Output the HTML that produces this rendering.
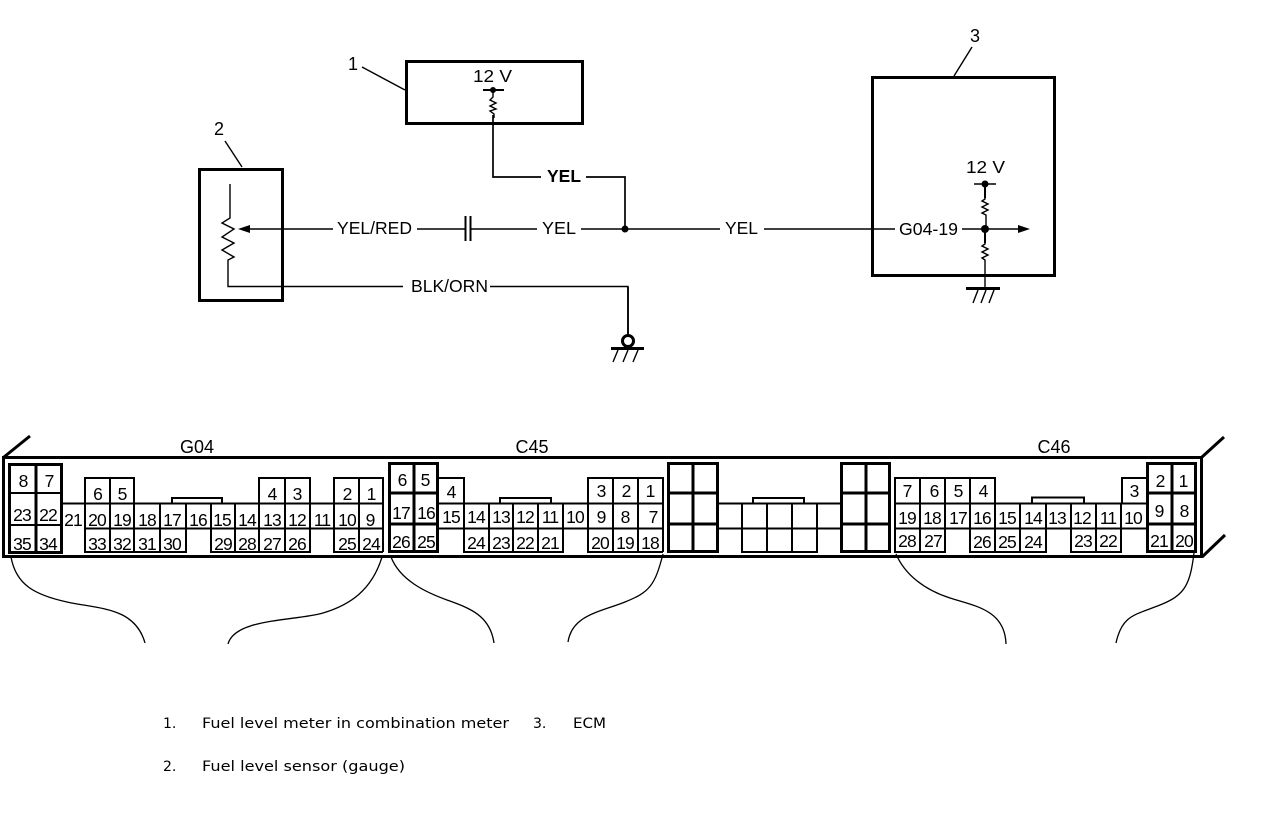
<!DOCTYPE html>
<html><head><meta charset="utf-8"><style>
html,body{margin:0;padding:0;background:#fff;width:1264px;height:826px;overflow:hidden}
svg{display:block}
text{font-family:"Liberation Sans",sans-serif;fill:#000}
.p text{font-size:17.5px;letter-spacing:-.9px;text-anchor:middle}
.l{font-size:17.5px}
.n{font-size:18px;text-anchor:middle}
.m{font-family:"DejaVu Sans",sans-serif;font-size:14px}
.t{font-size:18px;text-anchor:middle}
</style></head><body>
<svg width="1264" height="826" viewBox="0 0 1264 826" xmlns="http://www.w3.org/2000/svg">
<rect width="1264" height="826" fill="#fff"/>

<!-- Top schematic boxes -->
<g fill="none" stroke="#000" stroke-width="3">
<rect x="406.500" y="61.500" width="176" height="62"/>
<rect x="199.500" y="169.500" width="83" height="131"/>
<rect x="872.500" y="77.500" width="182" height="198"/>
</g>
<g fill="none" stroke="#000" stroke-width="1.4">
<path d="M362,67L405,90M225,141L242,167M972,47L954,76"/>
<path d="M483,90H504" stroke-width="2"/>
<path d="M493,90V97L490,100L496,103L490,106L496,109L490,111L494,114V118"/>
<path d="M493,115V177H541M586,177H625V229" stroke-width="1.7"/>
<path d="M250,229H333M417,229H465M470,229H537M581,229H720M764,229H895M962,229H1018"/>
<path d="M465.500,216V241M470.500,216V241" stroke-width="2"/>
<path d="M230,184V218L222,223L234,229L222,237L234,243L222,250L234,257L228,260V286.500H403M490,286.500H628V335"/>
<path d="M628,287V335" stroke-width="1.8"/>
<path d="M974,184H996"/>
<path d="M985,184V199L982,201L988,204L982,207L988,210L982,213L986,215V229M985,229V244L982,246L988,249L982,252L988,255L982,258L985,260V288"/>
<path d="M985,186V198M985,231V243" stroke-width="2"/>
<path d="M966,288.500H1000" stroke-width="3"/>
<path d="M973,303L978,290M981,303L986,290M989,303L994,290"/>
<path d="M611,348.500H644" stroke-width="3"/>
<path d="M613,362L618,350M623,362L628,350M633,362L638,350"/>
<circle cx="628" cy="341" r="5.500" stroke-width="3" fill="#fff"/>
</g>
<g fill="#000">
<circle cx="493" cy="90" r="3"/>
<circle cx="625" cy="229" r="3.500"/>
<circle cx="985" cy="184" r="3.500"/>
<circle cx="985" cy="229" r="4"/>
<path d="M238,229L250,225V233Z"/>
<path d="M1030,229L1018,225V233Z"/>
</g>
<text class="n" x="353" y="70">1</text>
<text class="n" x="219" y="135">2</text>
<text class="n" x="975" y="42">3</text>
<text class="l" x="473" y="82" textLength="39" lengthAdjust="spacingAndGlyphs">12 V</text>
<text class="l" x="966" y="173" textLength="39" lengthAdjust="spacingAndGlyphs">12 V</text>
<text class="l" x="547" y="182" style="font-weight:bold" textLength="34" lengthAdjust="spacingAndGlyphs">YEL</text>
<text class="l" x="337" y="234" textLength="75" lengthAdjust="spacingAndGlyphs">YEL/RED</text>
<text class="l" x="542" y="234" textLength="34" lengthAdjust="spacingAndGlyphs">YEL</text>
<text class="l" x="725" y="234" textLength="33" lengthAdjust="spacingAndGlyphs">YEL</text>
<text class="l" x="899" y="235" textLength="59" lengthAdjust="spacingAndGlyphs">G04-19</text>
<text class="l" x="411" y="292" textLength="77" lengthAdjust="spacingAndGlyphs">BLK/ORN</text>

<!-- Connector outline -->
<g fill="none" stroke="#000" stroke-width="3">
<rect x="3.500" y="457.500" width="1198" height="99"/>
<path d="M4,457L30,436M1202,457L1224,437M1202,557L1225,535"/>
</g>

<!-- Grid lines -->
<g fill="none" stroke="#000" stroke-width="2">
<!-- G04 -->
<path d="M62,503.500H383M85,528.500H383"/>
<path d="M85,503V478H134V503M110,478V503M259,503V478H310V503M285,478V503M334,503V478H383V552"/>
<path d="M359,478V552"/>
<path d="M85,503V552H186V503M110,503V552M134,503V552M160,503V552"/>
<path d="M211,503V552H310V503M235,503V552M259,503V552M285,503V552"/>
<path d="M334,503V552H383M310,503V528"/>
<path d="M172,503V498H222V503"/>
<!-- C45 -->
<path d="M438,503.500H664M438,528.500H664"/>
<path d="M438,478H464V503M588,503V478H663V552M613,478V552M638,478V552"/>
<path d="M464,503V552H563V503M489,503V552M513,503V552M538,503V552"/>
<path d="M588,503V552H663M464,503V529M563,503V529"/>
<path d="M500,503V498H551V503"/>
<!-- Center -->
<path d="M718,503.500H841M718,528.500H841"/>
<path d="M742,503V552H817V503M767,503V552M792,503V552"/>
<path d="M753,503V498H804V503"/>
<!-- C46 -->
<path d="M895,503.500H1147M895,528.500H1147"/>
<path d="M895,503V478H995V503M920,478V503M945,478V503M970,478V503"/>
<path d="M1122,503V478H1147"/>
<path d="M895,503V552H945V503M920,503V552"/>
<path d="M970,503V552H1046V503M995,503V552M1020,503V552"/>
<path d="M1071,503V552H1121V503M1096,503V552"/>
<path d="M1032,503V497.500H1084V503"/>
</g>
<g fill="none" stroke="#000" stroke-width="3">
<rect x="9.500" y="464.500" width="52" height="88"/>
<path d="M36,464V552"/>
<rect x="389.500" y="463.500" width="48" height="88"/>
<path d="M414,463V552M389,493H438M389,524H438"/>
<rect x="668.500" y="463.500" width="49" height="88"/>
<path d="M693,463V552M668,493H718M668,524H718"/>
<rect x="841.500" y="463.500" width="48" height="88"/>
<path d="M866,463V552M841,493H890M841,524H890"/>
<rect x="1147.500" y="463.500" width="48" height="88"/>
<path d="M1172,463V552M1147,493H1196M1147,524H1196"/>
</g>
<path d="M9,493H62M9,525H62" fill="none" stroke="#000" stroke-width="2"/>

<!-- Curves -->
<g fill="none" stroke="#000" stroke-width="1.3">
<path d="M11,557C16,585 35,595 67,602S135,607 145,643"/>
<path d="M382,557C372,590 350,605 323,613S235,618 228,644"/>
<path d="M391,557C400,580 425,592 447,600S490,615 494,643"/>
<path d="M663,554C655,585 650,592 625,602S572,615 568,642"/>
<path d="M896,554C905,575 925,590 950,598S1005,610 1006,644"/>
<path d="M1194,553C1190,585 1185,595 1160,605S1122,615 1116,643"/>
</g>

<!-- Titles -->
<text class="t" x="197" y="453">G04</text>
<text class="t" x="532" y="453">C45</text>
<text class="t" x="1054" y="453">C46</text>

<!-- Pin labels -->
<g class="p">
<text x="23" y="487">8</text><text x="49" y="487">7</text>
<text x="22" y="521">23</text><text x="48" y="521">22</text>
<text x="22" y="550">35</text><text x="48" y="550">34</text>
<text x="97.500" y="500">6</text><text x="122" y="500">5</text>
<text x="272" y="500">4</text><text x="297" y="500">3</text>
<text x="347" y="500">2</text><text x="371" y="500">1</text>
<text x="73" y="526">21</text><text x="97" y="526">20</text><text x="122" y="526">19</text><text x="147" y="526">18</text><text x="172" y="526">17</text><text x="198" y="526">16</text><text x="222" y="526">15</text><text x="247" y="526">14</text><text x="272" y="526">13</text><text x="297" y="526">12</text><text x="322" y="526">11</text><text x="347" y="526">10</text><text x="370" y="526">9</text>
<text x="97" y="550">33</text><text x="122" y="550">32</text><text x="147" y="550">31</text><text x="172" y="550">30</text>
<text x="223" y="550">29</text><text x="247" y="550">28</text><text x="272" y="550">27</text><text x="297" y="550">26</text>
<text x="347" y="550">25</text><text x="371" y="550">24</text>

<text x="402" y="486">6</text><text x="425" y="486">5</text>
<text x="401" y="519">17</text><text x="426" y="519">16</text>
<text x="401" y="548">26</text><text x="426" y="548">25</text>
<text x="451" y="498">4</text>
<text x="601" y="497">3</text><text x="626" y="497">2</text><text x="650" y="497">1</text>
<text x="451" y="523">15</text><text x="476" y="523">14</text><text x="501" y="523">13</text><text x="525" y="523">12</text><text x="550" y="523">11</text><text x="575" y="523">10</text><text x="601" y="523">9</text><text x="625" y="523">8</text><text x="653" y="523">7</text>
<text x="476" y="549">24</text><text x="501" y="549">23</text><text x="525" y="549">22</text><text x="550" y="549">21</text>
<text x="600" y="549">20</text><text x="625" y="549">19</text><text x="650" y="549">18</text>

<text x="907" y="497">7</text><text x="934" y="497">6</text><text x="958" y="497">5</text><text x="983" y="497">4</text>
<text x="1134" y="497">3</text>
<text x="1160" y="487">2</text><text x="1183" y="487">1</text>
<text x="907" y="524">19</text><text x="932" y="524">18</text><text x="958" y="524">17</text><text x="982" y="524">16</text><text x="1007" y="524">15</text><text x="1033" y="524">14</text><text x="1057" y="524">13</text><text x="1082" y="524">12</text><text x="1108" y="524">11</text><text x="1133" y="524">10</text>
<text x="1159" y="517">9</text><text x="1184" y="517">8</text>
<text x="907" y="547">28</text><text x="933" y="547">27</text>
<text x="982" y="548">26</text><text x="1007" y="548">25</text><text x="1033" y="548">24</text>
<text x="1083" y="547">23</text><text x="1108" y="547">22</text>
<text x="1159" y="547">21</text><text x="1184" y="547">20</text>
</g>

<!-- Legend -->
<text class="m" x="163" y="728">1.</text>
<text class="m" x="202" y="728" textLength="307" lengthAdjust="spacingAndGlyphs">Fuel level meter in combination meter</text>
<text class="m" x="533" y="728">3.</text>
<text class="m" x="573" y="728" textLength="33" lengthAdjust="spacingAndGlyphs">ECM</text>
<text class="m" x="163" y="771">2.</text>
<text class="m" x="202" y="771" textLength="203" lengthAdjust="spacingAndGlyphs">Fuel level sensor (gauge)</text>
</svg>
</body></html>
